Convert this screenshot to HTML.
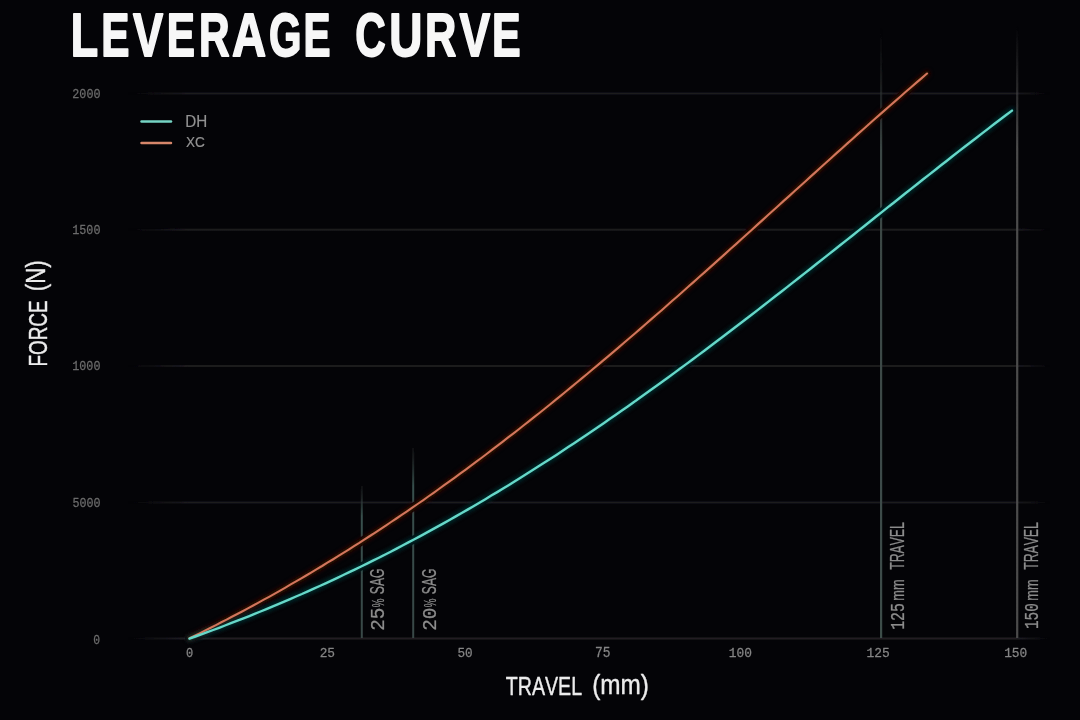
<!DOCTYPE html>
<html><head><meta charset="utf-8">
<style>
html,body{margin:0;padding:0;background:#040407;}
body{width:1080px;height:720px;overflow:hidden;position:relative;}
svg{position:absolute;left:0;top:0;display:block}
</style></head>
<body>
<svg width="1080" height="720" viewBox="0 0 1080 720">
<defs>
<linearGradient id="gh" x1="128" y1="0" x2="1050" y2="0" gradientUnits="userSpaceOnUse">
<stop offset="0" stop-color="#1b1a1e" stop-opacity="0"/>
<stop offset="0.065" stop-color="#1b1a1e" stop-opacity="1"/>
<stop offset="0.962" stop-color="#1b1a1e" stop-opacity="1"/>
<stop offset="1" stop-color="#1b1a1e" stop-opacity="0"/>
</linearGradient>
<linearGradient id="gv1" x1="0" y1="486" x2="0" y2="638" gradientUnits="userSpaceOnUse">
<stop offset="0" stop-color="#2a2c2c" stop-opacity="0.3"/>
<stop offset="0.2" stop-color="#37504d" stop-opacity="1"/>
<stop offset="1" stop-color="#394846" stop-opacity="1"/>
</linearGradient>
<linearGradient id="gv2" x1="0" y1="448" x2="0" y2="638" gradientUnits="userSpaceOnUse">
<stop offset="0" stop-color="#2a2c2c" stop-opacity="0.3"/>
<stop offset="0.2" stop-color="#37504d" stop-opacity="1"/>
<stop offset="1" stop-color="#394846" stop-opacity="1"/>
</linearGradient>
<linearGradient id="gv3" x1="0" y1="28" x2="0" y2="638" gradientUnits="userSpaceOnUse">
<stop offset="0" stop-color="#2a2a2a" stop-opacity="0"/>
<stop offset="0.2" stop-color="#3b4644" stop-opacity="1"/>
<stop offset="1" stop-color="#3d4d4a" stop-opacity="1"/>
</linearGradient>
<linearGradient id="gv4" x1="0" y1="26" x2="0" y2="638" gradientUnits="userSpaceOnUse">
<stop offset="0" stop-color="#4c4c4c" stop-opacity="0"/>
<stop offset="0.2" stop-color="#4c4c4c" stop-opacity="1"/>
<stop offset="1" stop-color="#4c4c4c" stop-opacity="1"/>
</linearGradient>
<linearGradient id="gh2" x1="128" y1="0" x2="1050" y2="0" gradientUnits="userSpaceOnUse">
<stop offset="0" stop-color="#201f24" stop-opacity="0"/>
<stop offset="0.065" stop-color="#201f24" stop-opacity="1"/>
<stop offset="0.962" stop-color="#201f24" stop-opacity="1"/>
<stop offset="1" stop-color="#201f24" stop-opacity="0"/>
</linearGradient>
<filter id="glow" x="-10%" y="-10%" width="120%" height="120%"><feGaussianBlur stdDeviation="2"/></filter>
<filter id="soft" x="-5%" y="-5%" width="110%" height="110%"><feGaussianBlur stdDeviation="0.35"/></filter>
</defs>
<rect x="0" y="0" width="1080" height="720" fill="#040407"/>
<g filter="url(#soft)">
<!-- gridlines -->
<g stroke="url(#gh)" stroke-width="2" fill="none">
<line x1="128" y1="93.6" x2="1050" y2="93.6"/>
<line x1="128" y1="229.8" x2="1050" y2="229.8"/>
<line x1="128" y1="366.1" x2="1050" y2="366.1"/>
<line x1="128" y1="502.5" x2="1050" y2="502.5"/>
</g>
<line x1="128" y1="638.6" x2="1050" y2="638.6" stroke="url(#gh2)" stroke-width="2"/>
<!-- vertical lines -->
<line x1="361.8" y1="486" x2="361.8" y2="638" stroke="url(#gv1)" stroke-width="2"/>
<line x1="413.2" y1="448" x2="413.2" y2="638" stroke="url(#gv2)" stroke-width="2"/>
<line x1="881.1" y1="28" x2="881.1" y2="638" stroke="url(#gv3)" stroke-width="2.2"/>
<line x1="1017.2" y1="26" x2="1017.2" y2="638" stroke="url(#gv4)" stroke-width="2.2"/>
<!-- curve halos -->
<path d="M189.5 638.3 L194.8 635.7 L200.1 633.1 L205.4 630.4 L210.7 627.8 L216.0 625.1 L221.3 622.3 L226.6 619.6 L231.9 616.8 L237.3 614.0 L242.6 611.2 L247.9 608.4 L253.2 605.5 L258.5 602.6 L263.8 599.7 L269.1 596.8 L274.4 593.8 L279.7 590.8 L285.0 587.8 L290.3 584.7 L295.6 581.7 L300.9 578.6 L306.2 575.5 L311.5 572.3 L316.8 569.1 L322.1 566.0 L327.4 562.7 L332.8 559.5 L338.1 556.2 L343.4 552.9 L348.7 549.6 L354.0 546.2 L359.3 542.9 L364.6 539.4 L369.9 536.0 L375.2 532.6 L380.5 529.1 L385.8 525.6 L391.1 522.0 L396.4 518.5 L401.7 514.9 L407.0 511.3 L412.3 507.6 L417.6 504.0 L423.0 500.3 L428.3 496.5 L433.6 492.8 L438.9 489.0 L444.2 485.2 L449.5 481.4 L454.8 477.6 L460.1 473.7 L465.4 469.8 L470.7 465.9 L476.0 461.9 L481.3 458.0 L486.6 454.0 L491.9 449.9 L497.2 445.9 L502.5 441.8 L507.8 437.7 L513.2 433.6 L518.5 429.5 L523.8 425.3 L529.1 421.1 L534.4 416.9 L539.7 412.7 L545.0 408.5 L550.3 404.2 L555.6 399.9 L560.9 395.6 L566.2 391.3 L571.5 386.9 L576.8 382.5 L582.1 378.1 L587.4 373.7 L592.7 369.3 L598.0 364.9 L603.3 360.4 L608.7 355.9 L614.0 351.4 L619.3 346.9 L624.6 342.3 L629.9 337.8 L635.2 333.2 L640.5 328.6 L645.8 324.0 L651.1 319.4 L656.4 314.8 L661.7 310.2 L667.0 305.5 L672.3 300.8 L677.6 296.2 L682.9 291.5 L688.2 286.8 L693.5 282.1 L698.9 277.3 L704.2 272.6 L709.5 267.9 L714.8 263.1 L720.1 258.4 L725.4 253.6 L730.7 248.8 L736.0 244.1 L741.3 239.3 L746.6 234.5 L751.9 229.7 L757.2 224.9 L762.5 220.1 L767.8 215.3 L773.1 210.5 L778.4 205.7 L783.7 200.9 L789.1 196.1 L794.4 191.3 L799.7 186.5 L805.0 181.7 L810.3 176.9 L815.6 172.1 L820.9 167.3 L826.2 162.5 L831.5 157.7 L836.8 152.9 L842.1 148.2 L847.4 143.4 L852.7 138.7 L858.0 133.9 L863.3 129.2 L868.6 124.5 L873.9 119.8 L879.2 115.1 L884.6 110.4 L889.9 105.7 L895.2 101.1 L900.5 96.5 L905.8 91.8 L911.1 87.2 L916.4 82.6 L921.7 78.1 L927.0 73.5" fill="none" stroke="#040407" stroke-width="8" stroke-linecap="round"/>
<path d="M189.5 638.6 L195.4 636.5 L201.3 634.4 L207.3 632.2 L213.2 630.0 L219.1 627.8 L225.0 625.5 L230.9 623.2 L236.8 620.9 L242.8 618.6 L248.7 616.3 L254.6 613.9 L260.5 611.5 L266.4 609.1 L272.3 606.6 L278.3 604.1 L284.2 601.6 L290.1 599.1 L296.0 596.5 L301.9 594.0 L307.8 591.3 L313.8 588.7 L319.7 586.0 L325.6 583.3 L331.5 580.6 L337.4 577.8 L343.3 575.0 L349.3 572.2 L355.2 569.4 L361.1 566.5 L367.0 563.6 L372.9 560.7 L378.9 557.7 L384.8 554.7 L390.7 551.7 L396.6 548.6 L402.5 545.5 L408.4 542.4 L414.4 539.3 L420.3 536.1 L426.2 532.9 L432.1 529.6 L438.0 526.4 L443.9 523.1 L449.9 519.8 L455.8 516.4 L461.7 513.0 L467.6 509.6 L473.5 506.2 L479.4 502.7 L485.4 499.2 L491.3 495.6 L497.2 492.1 L503.1 488.5 L509.0 484.9 L514.9 481.2 L520.9 477.5 L526.8 473.8 L532.7 470.1 L538.6 466.3 L544.5 462.5 L550.5 458.7 L556.4 454.9 L562.3 451.0 L568.2 447.1 L574.1 443.2 L580.0 439.2 L586.0 435.2 L591.9 431.2 L597.8 427.2 L603.7 423.2 L609.6 419.1 L615.5 415.0 L621.5 410.8 L627.4 406.7 L633.3 402.5 L639.2 398.3 L645.1 394.1 L651.0 389.8 L657.0 385.6 L662.9 381.3 L668.8 377.0 L674.7 372.6 L680.6 368.3 L686.6 363.9 L692.5 359.5 L698.4 355.1 L704.3 350.7 L710.2 346.3 L716.1 341.8 L722.1 337.3 L728.0 332.8 L733.9 328.3 L739.8 323.8 L745.7 319.2 L751.6 314.7 L757.6 310.1 L763.5 305.5 L769.4 300.9 L775.3 296.3 L781.2 291.7 L787.1 287.1 L793.1 282.4 L799.0 277.8 L804.9 273.1 L810.8 268.5 L816.7 263.8 L822.6 259.1 L828.6 254.4 L834.5 249.7 L840.4 245.0 L846.3 240.4 L852.2 235.7 L858.2 230.9 L864.1 226.2 L870.0 221.5 L875.9 216.8 L881.8 212.1 L887.7 207.4 L893.7 202.7 L899.6 198.0 L905.5 193.3 L911.4 188.6 L917.3 184.0 L923.2 179.3 L929.2 174.6 L935.1 170.0 L941.0 165.3 L946.9 160.7 L952.8 156.0 L958.7 151.4 L964.7 146.8 L970.6 142.2 L976.5 137.7 L982.4 133.1 L988.3 128.6 L994.2 124.0 L1000.2 119.5 L1006.1 115.0 L1012.0 110.6" fill="none" stroke="#040407" stroke-width="8" stroke-linecap="round"/>
<path d="M189.5 638.3 L194.8 635.7 L200.1 633.1 L205.4 630.4 L210.7 627.8 L216.0 625.1 L221.3 622.3 L226.6 619.6 L231.9 616.8 L237.3 614.0 L242.6 611.2 L247.9 608.4 L253.2 605.5 L258.5 602.6 L263.8 599.7 L269.1 596.8 L274.4 593.8 L279.7 590.8 L285.0 587.8 L290.3 584.7 L295.6 581.7 L300.9 578.6 L306.2 575.5 L311.5 572.3 L316.8 569.1 L322.1 566.0 L327.4 562.7 L332.8 559.5 L338.1 556.2 L343.4 552.9 L348.7 549.6 L354.0 546.2 L359.3 542.9 L364.6 539.4 L369.9 536.0 L375.2 532.6 L380.5 529.1 L385.8 525.6 L391.1 522.0 L396.4 518.5 L401.7 514.9 L407.0 511.3 L412.3 507.6 L417.6 504.0 L423.0 500.3 L428.3 496.5 L433.6 492.8 L438.9 489.0 L444.2 485.2 L449.5 481.4 L454.8 477.6 L460.1 473.7 L465.4 469.8 L470.7 465.9 L476.0 461.9 L481.3 458.0 L486.6 454.0 L491.9 449.9 L497.2 445.9 L502.5 441.8 L507.8 437.7 L513.2 433.6 L518.5 429.5 L523.8 425.3 L529.1 421.1 L534.4 416.9 L539.7 412.7 L545.0 408.5 L550.3 404.2 L555.6 399.9 L560.9 395.6 L566.2 391.3 L571.5 386.9 L576.8 382.5 L582.1 378.1 L587.4 373.7 L592.7 369.3 L598.0 364.9 L603.3 360.4 L608.7 355.9 L614.0 351.4 L619.3 346.9 L624.6 342.3 L629.9 337.8 L635.2 333.2 L640.5 328.6 L645.8 324.0 L651.1 319.4 L656.4 314.8 L661.7 310.2 L667.0 305.5 L672.3 300.8 L677.6 296.2 L682.9 291.5 L688.2 286.8 L693.5 282.1 L698.9 277.3 L704.2 272.6 L709.5 267.9 L714.8 263.1 L720.1 258.4 L725.4 253.6 L730.7 248.8 L736.0 244.1 L741.3 239.3 L746.6 234.5 L751.9 229.7 L757.2 224.9 L762.5 220.1 L767.8 215.3 L773.1 210.5 L778.4 205.7 L783.7 200.9 L789.1 196.1 L794.4 191.3 L799.7 186.5 L805.0 181.7 L810.3 176.9 L815.6 172.1 L820.9 167.3 L826.2 162.5 L831.5 157.7 L836.8 152.9 L842.1 148.2 L847.4 143.4 L852.7 138.7 L858.0 133.9 L863.3 129.2 L868.6 124.5 L873.9 119.8 L879.2 115.1 L884.6 110.4 L889.9 105.7 L895.2 101.1 L900.5 96.5 L905.8 91.8 L911.1 87.2 L916.4 82.6 L921.7 78.1 L927.0 73.5" fill="none" stroke="#5a1a0a" stroke-opacity="0.55" stroke-width="6" stroke-linecap="round" filter="url(#glow)"/>
<path d="M189.5 638.6 L195.4 636.5 L201.3 634.4 L207.3 632.2 L213.2 630.0 L219.1 627.8 L225.0 625.5 L230.9 623.2 L236.8 620.9 L242.8 618.6 L248.7 616.3 L254.6 613.9 L260.5 611.5 L266.4 609.1 L272.3 606.6 L278.3 604.1 L284.2 601.6 L290.1 599.1 L296.0 596.5 L301.9 594.0 L307.8 591.3 L313.8 588.7 L319.7 586.0 L325.6 583.3 L331.5 580.6 L337.4 577.8 L343.3 575.0 L349.3 572.2 L355.2 569.4 L361.1 566.5 L367.0 563.6 L372.9 560.7 L378.9 557.7 L384.8 554.7 L390.7 551.7 L396.6 548.6 L402.5 545.5 L408.4 542.4 L414.4 539.3 L420.3 536.1 L426.2 532.9 L432.1 529.6 L438.0 526.4 L443.9 523.1 L449.9 519.8 L455.8 516.4 L461.7 513.0 L467.6 509.6 L473.5 506.2 L479.4 502.7 L485.4 499.2 L491.3 495.6 L497.2 492.1 L503.1 488.5 L509.0 484.9 L514.9 481.2 L520.9 477.5 L526.8 473.8 L532.7 470.1 L538.6 466.3 L544.5 462.5 L550.5 458.7 L556.4 454.9 L562.3 451.0 L568.2 447.1 L574.1 443.2 L580.0 439.2 L586.0 435.2 L591.9 431.2 L597.8 427.2 L603.7 423.2 L609.6 419.1 L615.5 415.0 L621.5 410.8 L627.4 406.7 L633.3 402.5 L639.2 398.3 L645.1 394.1 L651.0 389.8 L657.0 385.6 L662.9 381.3 L668.8 377.0 L674.7 372.6 L680.6 368.3 L686.6 363.9 L692.5 359.5 L698.4 355.1 L704.3 350.7 L710.2 346.3 L716.1 341.8 L722.1 337.3 L728.0 332.8 L733.9 328.3 L739.8 323.8 L745.7 319.2 L751.6 314.7 L757.6 310.1 L763.5 305.5 L769.4 300.9 L775.3 296.3 L781.2 291.7 L787.1 287.1 L793.1 282.4 L799.0 277.8 L804.9 273.1 L810.8 268.5 L816.7 263.8 L822.6 259.1 L828.6 254.4 L834.5 249.7 L840.4 245.0 L846.3 240.4 L852.2 235.7 L858.2 230.9 L864.1 226.2 L870.0 221.5 L875.9 216.8 L881.8 212.1 L887.7 207.4 L893.7 202.7 L899.6 198.0 L905.5 193.3 L911.4 188.6 L917.3 184.0 L923.2 179.3 L929.2 174.6 L935.1 170.0 L941.0 165.3 L946.9 160.7 L952.8 156.0 L958.7 151.4 L964.7 146.8 L970.6 142.2 L976.5 137.7 L982.4 133.1 L988.3 128.6 L994.2 124.0 L1000.2 119.5 L1006.1 115.0 L1012.0 110.6" fill="none" stroke="#0a4a48" stroke-opacity="0.6" stroke-width="6" stroke-linecap="round" filter="url(#glow)"/>
<!-- curves -->
<path d="M189.5 638.3 L194.8 635.7 L200.1 633.1 L205.4 630.4 L210.7 627.8 L216.0 625.1 L221.3 622.3 L226.6 619.6 L231.9 616.8 L237.3 614.0 L242.6 611.2 L247.9 608.4 L253.2 605.5 L258.5 602.6 L263.8 599.7 L269.1 596.8 L274.4 593.8 L279.7 590.8 L285.0 587.8 L290.3 584.7 L295.6 581.7 L300.9 578.6 L306.2 575.5 L311.5 572.3 L316.8 569.1 L322.1 566.0 L327.4 562.7 L332.8 559.5 L338.1 556.2 L343.4 552.9 L348.7 549.6 L354.0 546.2 L359.3 542.9 L364.6 539.4 L369.9 536.0 L375.2 532.6 L380.5 529.1 L385.8 525.6 L391.1 522.0 L396.4 518.5 L401.7 514.9 L407.0 511.3 L412.3 507.6 L417.6 504.0 L423.0 500.3 L428.3 496.5 L433.6 492.8 L438.9 489.0 L444.2 485.2 L449.5 481.4 L454.8 477.6 L460.1 473.7 L465.4 469.8 L470.7 465.9 L476.0 461.9 L481.3 458.0 L486.6 454.0 L491.9 449.9 L497.2 445.9 L502.5 441.8 L507.8 437.7 L513.2 433.6 L518.5 429.5 L523.8 425.3 L529.1 421.1 L534.4 416.9 L539.7 412.7 L545.0 408.5 L550.3 404.2 L555.6 399.9 L560.9 395.6 L566.2 391.3 L571.5 386.9 L576.8 382.5 L582.1 378.1 L587.4 373.7 L592.7 369.3 L598.0 364.9 L603.3 360.4 L608.7 355.9 L614.0 351.4 L619.3 346.9 L624.6 342.3 L629.9 337.8 L635.2 333.2 L640.5 328.6 L645.8 324.0 L651.1 319.4 L656.4 314.8 L661.7 310.2 L667.0 305.5 L672.3 300.8 L677.6 296.2 L682.9 291.5 L688.2 286.8 L693.5 282.1 L698.9 277.3 L704.2 272.6 L709.5 267.9 L714.8 263.1 L720.1 258.4 L725.4 253.6 L730.7 248.8 L736.0 244.1 L741.3 239.3 L746.6 234.5 L751.9 229.7 L757.2 224.9 L762.5 220.1 L767.8 215.3 L773.1 210.5 L778.4 205.7 L783.7 200.9 L789.1 196.1 L794.4 191.3 L799.7 186.5 L805.0 181.7 L810.3 176.9 L815.6 172.1 L820.9 167.3 L826.2 162.5 L831.5 157.7 L836.8 152.9 L842.1 148.2 L847.4 143.4 L852.7 138.7 L858.0 133.9 L863.3 129.2 L868.6 124.5 L873.9 119.8 L879.2 115.1 L884.6 110.4 L889.9 105.7 L895.2 101.1 L900.5 96.5 L905.8 91.8 L911.1 87.2 L916.4 82.6 L921.7 78.1 L927.0 73.5" fill="none" stroke="#d2765c" stroke-width="2.1" stroke-linecap="round"/>
<path d="M189.5 638.6 L195.4 636.5 L201.3 634.4 L207.3 632.2 L213.2 630.0 L219.1 627.8 L225.0 625.5 L230.9 623.2 L236.8 620.9 L242.8 618.6 L248.7 616.3 L254.6 613.9 L260.5 611.5 L266.4 609.1 L272.3 606.6 L278.3 604.1 L284.2 601.6 L290.1 599.1 L296.0 596.5 L301.9 594.0 L307.8 591.3 L313.8 588.7 L319.7 586.0 L325.6 583.3 L331.5 580.6 L337.4 577.8 L343.3 575.0 L349.3 572.2 L355.2 569.4 L361.1 566.5 L367.0 563.6 L372.9 560.7 L378.9 557.7 L384.8 554.7 L390.7 551.7 L396.6 548.6 L402.5 545.5 L408.4 542.4 L414.4 539.3 L420.3 536.1 L426.2 532.9 L432.1 529.6 L438.0 526.4 L443.9 523.1 L449.9 519.8 L455.8 516.4 L461.7 513.0 L467.6 509.6 L473.5 506.2 L479.4 502.7 L485.4 499.2 L491.3 495.6 L497.2 492.1 L503.1 488.5 L509.0 484.9 L514.9 481.2 L520.9 477.5 L526.8 473.8 L532.7 470.1 L538.6 466.3 L544.5 462.5 L550.5 458.7 L556.4 454.9 L562.3 451.0 L568.2 447.1 L574.1 443.2 L580.0 439.2 L586.0 435.2 L591.9 431.2 L597.8 427.2 L603.7 423.2 L609.6 419.1 L615.5 415.0 L621.5 410.8 L627.4 406.7 L633.3 402.5 L639.2 398.3 L645.1 394.1 L651.0 389.8 L657.0 385.6 L662.9 381.3 L668.8 377.0 L674.7 372.6 L680.6 368.3 L686.6 363.9 L692.5 359.5 L698.4 355.1 L704.3 350.7 L710.2 346.3 L716.1 341.8 L722.1 337.3 L728.0 332.8 L733.9 328.3 L739.8 323.8 L745.7 319.2 L751.6 314.7 L757.6 310.1 L763.5 305.5 L769.4 300.9 L775.3 296.3 L781.2 291.7 L787.1 287.1 L793.1 282.4 L799.0 277.8 L804.9 273.1 L810.8 268.5 L816.7 263.8 L822.6 259.1 L828.6 254.4 L834.5 249.7 L840.4 245.0 L846.3 240.4 L852.2 235.7 L858.2 230.9 L864.1 226.2 L870.0 221.5 L875.9 216.8 L881.8 212.1 L887.7 207.4 L893.7 202.7 L899.6 198.0 L905.5 193.3 L911.4 188.6 L917.3 184.0 L923.2 179.3 L929.2 174.6 L935.1 170.0 L941.0 165.3 L946.9 160.7 L952.8 156.0 L958.7 151.4 L964.7 146.8 L970.6 142.2 L976.5 137.7 L982.4 133.1 L988.3 128.6 L994.2 124.0 L1000.2 119.5 L1006.1 115.0 L1012.0 110.6" fill="none" stroke="#66d8c9" stroke-width="2.4" stroke-linecap="round"/>
<line x1="141.5" y1="121.5" x2="171" y2="121.5" stroke="#74d4c4" stroke-width="2.5" stroke-linecap="round"/>
<line x1="141.5" y1="142.9" x2="171" y2="142.9" stroke="#d6866a" stroke-width="2.5" stroke-linecap="round"/>
<g style="font-kerning:none">
<text transform="translate(70.80,56.20) scale(0.7324,1)" font-family="Liberation Sans" font-weight="bold" font-size="61.19" fill="#f7f7f7" stroke="#f7f7f7" stroke-width="1.60" vector-effect="non-scaling-stroke" stroke-linejoin="round">L</text>
<text transform="translate(101.37,56.20) scale(0.6903,1)" font-family="Liberation Sans" font-weight="bold" font-size="61.19" fill="#f7f7f7" stroke="#f7f7f7" stroke-width="1.60" vector-effect="non-scaling-stroke" stroke-linejoin="round">E</text>
<text transform="translate(133.09,56.20) scale(0.7379,1)" font-family="Liberation Sans" font-weight="bold" font-size="61.19" fill="#f7f7f7" stroke="#f7f7f7" stroke-width="1.60" vector-effect="non-scaling-stroke" stroke-linejoin="round">V</text>
<text transform="translate(166.87,56.20) scale(0.6903,1)" font-family="Liberation Sans" font-weight="bold" font-size="61.19" fill="#f7f7f7" stroke="#f7f7f7" stroke-width="1.60" vector-effect="non-scaling-stroke" stroke-linejoin="round">E</text>
<text transform="translate(199.07,56.20) scale(0.6925,1)" font-family="Liberation Sans" font-weight="bold" font-size="61.19" fill="#f7f7f7" stroke="#f7f7f7" stroke-width="1.60" vector-effect="non-scaling-stroke" stroke-linejoin="round">R</text>
<text transform="translate(232.02,56.20) scale(0.7722,1)" font-family="Liberation Sans" font-weight="bold" font-size="61.19" fill="#f7f7f7" stroke="#f7f7f7" stroke-width="1.60" vector-effect="non-scaling-stroke" stroke-linejoin="round">A</text>
<text transform="translate(268.99,56.20) scale(0.6829,1)" font-family="Liberation Sans" font-weight="bold" font-size="61.19" fill="#f7f7f7" stroke="#f7f7f7" stroke-width="1.60" vector-effect="non-scaling-stroke" stroke-linejoin="round">G</text>
<text transform="translate(303.39,56.20) scale(0.6612,1)" font-family="Liberation Sans" font-weight="bold" font-size="61.19" fill="#f7f7f7" stroke="#f7f7f7" stroke-width="1.60" vector-effect="non-scaling-stroke" stroke-linejoin="round">E</text>
<text transform="translate(355.17,56.20) scale(0.6899,1)" font-family="Liberation Sans" font-weight="bold" font-size="61.19" fill="#f7f7f7" stroke="#f7f7f7" stroke-width="1.60" vector-effect="non-scaling-stroke" stroke-linejoin="round">C</text>
<text transform="translate(389.24,56.20) scale(0.7504,1)" font-family="Liberation Sans" font-weight="bold" font-size="61.19" fill="#f7f7f7" stroke="#f7f7f7" stroke-width="1.60" vector-effect="non-scaling-stroke" stroke-linejoin="round">U</text>
<text transform="translate(425.10,56.20) scale(0.7080,1)" font-family="Liberation Sans" font-weight="bold" font-size="61.19" fill="#f7f7f7" stroke="#f7f7f7" stroke-width="1.60" vector-effect="non-scaling-stroke" stroke-linejoin="round">R</text>
<text transform="translate(459.39,56.20) scale(0.7529,1)" font-family="Liberation Sans" font-weight="bold" font-size="61.19" fill="#f7f7f7" stroke="#f7f7f7" stroke-width="1.60" vector-effect="non-scaling-stroke" stroke-linejoin="round">V</text>
<text transform="translate(491.93,56.20) scale(0.7020,1)" font-family="Liberation Sans" font-weight="bold" font-size="61.19" fill="#f7f7f7" stroke="#f7f7f7" stroke-width="1.60" vector-effect="non-scaling-stroke" stroke-linejoin="round">E</text>
<text transform="translate(185.25,126.80) scale(0.9610,1)" font-family="Liberation Sans" font-weight="normal" font-size="15.84" fill="#929292" stroke="#929292" stroke-width="0.20" vector-effect="non-scaling-stroke" stroke-linejoin="round">DH</text>
<text transform="translate(185.89,146.60) scale(0.8760,1)" font-family="Liberation Sans" font-weight="normal" font-size="15.55" fill="#929292" stroke="#929292" stroke-width="0.20" vector-effect="non-scaling-stroke" stroke-linejoin="round">XC</text>
<text transform="translate(505.83,695.23) scale(0.7737,1)" font-family="Liberation Sans" font-weight="normal" font-size="25.36" fill="#ececec" stroke="#ececec" stroke-width="0.35" vector-effect="non-scaling-stroke" stroke-linejoin="round">TRAVEL</text>
<text transform="translate(592.17,693.75) scale(0.8574,1)" font-family="Liberation Sans" font-weight="normal" font-size="28.39" fill="#ececec" stroke="#ececec" stroke-width="0.35" vector-effect="non-scaling-stroke" stroke-linejoin="round">(mm)</text>
<text transform="translate(46.53,366.57) rotate(-90) scale(0.7363,1)" font-family="Liberation Sans" font-weight="normal" font-size="25.65" fill="#ececec" stroke="#ececec" stroke-width="0.35" vector-effect="non-scaling-stroke" stroke-linejoin="round">FORCE</text>
<text transform="translate(45.19,291.21) rotate(-90) scale(0.7829,1)" font-family="Liberation Sans" font-weight="normal" font-size="28.44" fill="#ececec" stroke="#ececec" stroke-width="0.35" vector-effect="non-scaling-stroke" stroke-linejoin="round">(N)</text>
<text transform="translate(72.30,97.88) scale(0.9191,1)" font-family="Liberation Mono" font-weight="normal" font-size="12.78" fill="#6c6c6c" stroke="#6c6c6c" stroke-width="0.25" vector-effect="non-scaling-stroke" stroke-linejoin="round">2000</text>
<text transform="translate(72.28,234.08) scale(0.9199,1)" font-family="Liberation Mono" font-weight="normal" font-size="12.78" fill="#6c6c6c" stroke="#6c6c6c" stroke-width="0.25" vector-effect="non-scaling-stroke" stroke-linejoin="round">1500</text>
<text transform="translate(72.28,370.38) scale(0.9199,1)" font-family="Liberation Mono" font-weight="normal" font-size="12.78" fill="#6c6c6c" stroke="#6c6c6c" stroke-width="0.25" vector-effect="non-scaling-stroke" stroke-linejoin="round">1000</text>
<text transform="translate(72.39,506.77) scale(0.9160,1)" font-family="Liberation Mono" font-weight="normal" font-size="12.78" fill="#6c6c6c" stroke="#6c6c6c" stroke-width="0.25" vector-effect="non-scaling-stroke" stroke-linejoin="round">5000</text>
<text transform="translate(93.33,643.88) scale(0.8920,1)" font-family="Liberation Mono" font-weight="normal" font-size="12.78" fill="#6c6c6c" stroke="#6c6c6c" stroke-width="0.25" vector-effect="non-scaling-stroke" stroke-linejoin="round">0</text>
<text transform="translate(186.10,657.17) scale(0.8891,1)" font-family="Liberation Mono" font-weight="normal" font-size="13.53" fill="#858585" stroke="#858585" stroke-width="0.25" vector-effect="non-scaling-stroke" stroke-linejoin="round">0</text>
<text transform="translate(319.66,657.17) scale(0.9461,1)" font-family="Liberation Mono" font-weight="normal" font-size="13.53" fill="#858585" stroke="#858585" stroke-width="0.25" vector-effect="non-scaling-stroke" stroke-linejoin="round">25</text>
<text transform="translate(457.45,657.17) scale(0.9375,1)" font-family="Liberation Mono" font-weight="normal" font-size="13.53" fill="#858585" stroke="#858585" stroke-width="0.25" vector-effect="non-scaling-stroke" stroke-linejoin="round">50</text>
<text transform="translate(594.93,657.17) scale(0.9376,1)" font-family="Liberation Mono" font-weight="normal" font-size="13.74" fill="#858585" stroke="#858585" stroke-width="0.25" vector-effect="non-scaling-stroke" stroke-linejoin="round">75</text>
<text transform="translate(728.78,657.17) scale(0.9514,1)" font-family="Liberation Mono" font-weight="normal" font-size="13.53" fill="#858585" stroke="#858585" stroke-width="0.25" vector-effect="non-scaling-stroke" stroke-linejoin="round">100</text>
<text transform="translate(866.46,657.17) scale(0.9525,1)" font-family="Liberation Mono" font-weight="normal" font-size="13.53" fill="#858585" stroke="#858585" stroke-width="0.25" vector-effect="non-scaling-stroke" stroke-linejoin="round">125</text>
<text transform="translate(1004.14,657.17) scale(0.9514,1)" font-family="Liberation Mono" font-weight="normal" font-size="13.53" fill="#858585" stroke="#858585" stroke-width="0.25" vector-effect="non-scaling-stroke" stroke-linejoin="round">150</text>
<text transform="translate(384.38,630.84) rotate(-90) scale(0.9214,1)" font-family="Liberation Mono" font-weight="normal" font-size="21.02" fill="#8c8c8c" stroke="#8c8c8c" stroke-width="0.25" vector-effect="non-scaling-stroke" stroke-linejoin="round">25</text>
<text transform="translate(384.38,607.23) rotate(-90) scale(0.6294,1)" font-family="Liberation Sans" font-weight="normal" font-size="15.64" fill="#8c8c8c" stroke="#8c8c8c" stroke-width="0.25" vector-effect="non-scaling-stroke" stroke-linejoin="round">%</text>
<text transform="translate(384.38,594.23) rotate(-90) scale(0.6048,1)" font-family="Liberation Sans" font-weight="normal" font-size="20.13" fill="#8c8c8c" stroke="#8c8c8c" stroke-width="0.25" vector-effect="non-scaling-stroke" stroke-linejoin="round">SAG</text>
<text transform="translate(436.27,630.83) rotate(-90) scale(0.9197,1)" font-family="Liberation Mono" font-weight="normal" font-size="21.02" fill="#8c8c8c" stroke="#8c8c8c" stroke-width="0.25" vector-effect="non-scaling-stroke" stroke-linejoin="round">20</text>
<text transform="translate(436.27,607.23) rotate(-90) scale(0.6294,1)" font-family="Liberation Sans" font-weight="normal" font-size="15.64" fill="#8c8c8c" stroke="#8c8c8c" stroke-width="0.25" vector-effect="non-scaling-stroke" stroke-linejoin="round">%</text>
<text transform="translate(436.27,594.23) rotate(-90) scale(0.6048,1)" font-family="Liberation Sans" font-weight="normal" font-size="20.13" fill="#8c8c8c" stroke="#8c8c8c" stroke-width="0.25" vector-effect="non-scaling-stroke" stroke-linejoin="round">SAG</text>
<text transform="translate(904.08,629.85) rotate(-90) scale(0.7285,1)" font-family="Liberation Mono" font-weight="normal" font-size="20.41" fill="#8c8c8c" stroke="#8c8c8c" stroke-width="0.25" vector-effect="non-scaling-stroke" stroke-linejoin="round">125</text>
<text transform="translate(904.08,600.63) rotate(-90) scale(0.6929,1)" font-family="Liberation Sans" font-weight="normal" font-size="18.49" fill="#8c8c8c" stroke="#8c8c8c" stroke-width="0.25" vector-effect="non-scaling-stroke" stroke-linejoin="round">mm</text>
<text transform="translate(904.08,569.75) rotate(-90) scale(0.6250,1)" font-family="Liberation Sans" font-weight="normal" font-size="19.55" fill="#8c8c8c" stroke="#8c8c8c" stroke-width="0.25" vector-effect="non-scaling-stroke" stroke-linejoin="round">TRAVEL</text>
<text transform="translate(1038.08,629.01) rotate(-90) scale(0.7041,1)" font-family="Liberation Mono" font-weight="normal" font-size="20.41" fill="#8c8c8c" stroke="#8c8c8c" stroke-width="0.25" vector-effect="non-scaling-stroke" stroke-linejoin="round">150</text>
<text transform="translate(1038.08,600.63) rotate(-90) scale(0.6929,1)" font-family="Liberation Sans" font-weight="normal" font-size="18.49" fill="#8c8c8c" stroke="#8c8c8c" stroke-width="0.25" vector-effect="non-scaling-stroke" stroke-linejoin="round">mm</text>
<text transform="translate(1038.08,569.75) rotate(-90) scale(0.6250,1)" font-family="Liberation Sans" font-weight="normal" font-size="19.55" fill="#8c8c8c" stroke="#8c8c8c" stroke-width="0.25" vector-effect="non-scaling-stroke" stroke-linejoin="round">TRAVEL</text>
</g>
</g>
</svg>
</body></html>
